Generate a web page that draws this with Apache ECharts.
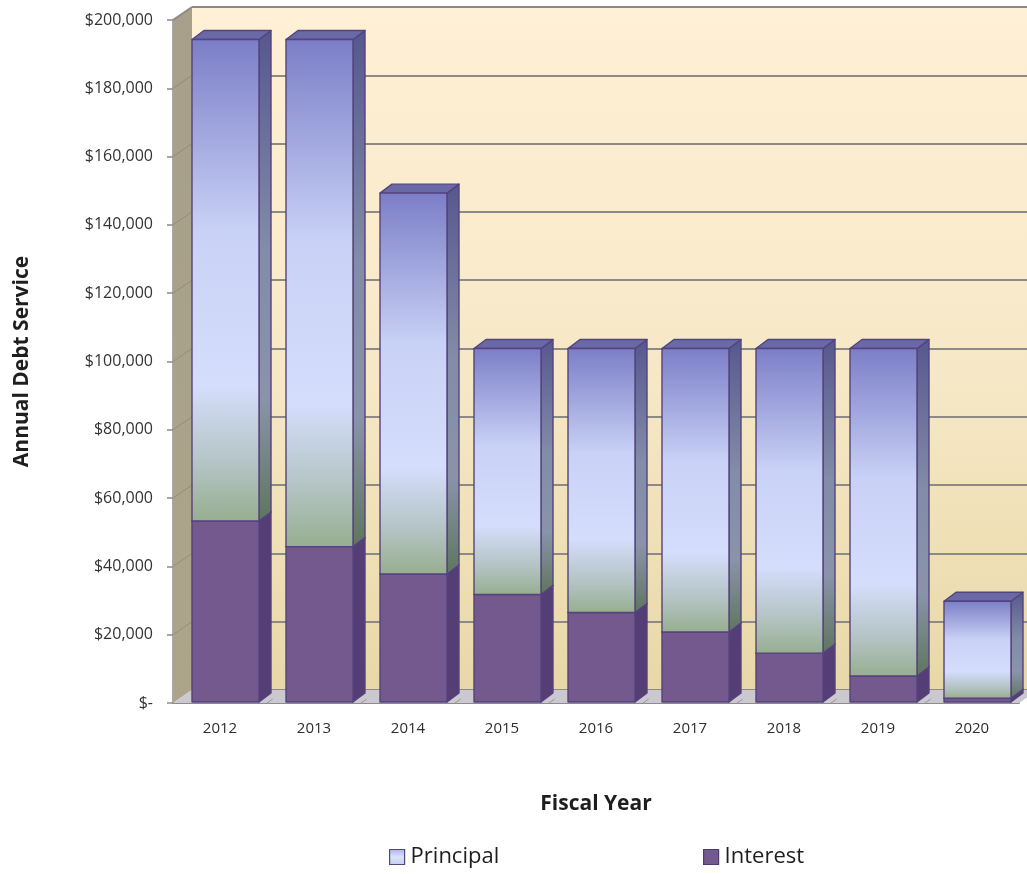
<!DOCTYPE html>
<html>
<head>
<meta charset="utf-8">
<script src="https://cdn.jsdelivr.net/npm/echarts@6/dist/echarts.min.js"></script>
<style>
  html, body { margin: 0; padding: 0; background: #ffffff; }
  #chart { width: 1027px; height: 874px; }
</style>
</head>
<body>
<div id="chart"></div>
<script>
// Fiscal years and annual debt service split into interest and principal
const years = ['2012', '2013', '2014', '2015', '2016', '2017', '2018', '2019', '2020'];
const interest = [53000, 45500, 37500, 31500, 26200, 20500, 14300, 7600, 1100];
const principal = [141000, 148500, 111500, 72000, 77300, 83000, 89200, 95900, 28400];
const yTicks = [0, 20000, 40000, 60000, 80000, 100000, 120000, 140000, 160000, 180000, 200000];

const Y_MAX = yTicks[yTicks.length - 1];
const Y_STEP = yTicks[1] - yTicks[0];

// 3D look: offset of the back wall and of a column's back face (px)
const WALL_DX = 19, WALL_DY = -13;
const BAR_DX = 12, BAR_DY = -9;
// column front face relative to band centre, as fractions of the band
const FACE_L = -28 / 94, FACE_R = 39 / 94;

const FONT = '"Open Sans", "DejaVu Sans", sans-serif';
const grad = (stops) => new echarts.graphic.LinearGradient(0, 0, 0, 1,
  stops.map(([o, c]) => ({ offset: o, color: c })));

// stacked ranges for each series
const interestData = years.map((y, i) => [i, 0, interest[i]]);
const principalData = years.map((y, i) => [i, interest[i], interest[i] + principal[i]]);

const STYLE = {
  Principal: {
    front: () => grad([[0, '#7b7ec7'], [0.4, '#c9d2f6'], [0.72, '#d4ddfb'], [0.88, '#b4c4c4'], [1, '#97ae8f']]),
    side: () => grad([[0, '#56578e'], [0.45, '#838ca8'], [0.75, '#8a93aa'], [1, '#5f755e']]),
    top: '#6a69a8'
  },
  Interest: {
    front: () => '#74598f',
    side: () => '#553e75',
    top: '#5e4882'
  }
};
const EDGE = '#54437d';

function renderColumn(params, api) {
  const idx = api.value(0);
  const band = api.size([1, 0])[0];
  const lo = api.coord([idx, api.value(1)]);
  const hi = api.coord([idx, api.value(2)]);
  const xl = lo[0] + band * FACE_L;
  const xr = lo[0] + band * FACE_R;
  const yb = lo[1] - 1;
  const yt = hi[1] - 1;
  const st = STYLE[params.seriesName];
  const line = { stroke: EDGE, lineWidth: 1.4, lineJoin: 'round' };
  return {
    type: 'group',
    children: [
      { type: 'polygon', shape: { points: [[xr, yb], [xr + BAR_DX, yb + BAR_DY], [xr + BAR_DX, yt + BAR_DY], [xr, yt]] },
        style: Object.assign({ fill: st.side() }, line) },
      { type: 'polygon', shape: { points: [[xl, yt], [xl + BAR_DX, yt + BAR_DY], [xr + BAR_DX, yt + BAR_DY], [xr, yt]] },
        style: Object.assign({ fill: st.top }, line) },
      { type: 'rect', shape: { x: xl, y: yt, width: xr - xl, height: yb - yt },
        style: Object.assign({ fill: st.front() }, line) }
    ]
  };
}

// side wall, floor and the side-wall grid lines
function renderFrame(params, api) {
  const band = api.size([1, 0])[0];
  const x0 = api.coord([0, 0])[0] - band / 2;
  const x1 = api.coord([years.length - 1, 0])[0] + band / 2;
  const y0 = api.coord([0, 0])[1];
  const yTop = api.coord([0, Y_MAX])[1];
  const children = [
    { type: 'polygon', shape: { points: [[x0, y0], [x0, yTop], [x0 + WALL_DX, yTop + WALL_DY], [x0 + WALL_DX, y0 + WALL_DY]] },
      style: { fill: grad([[0, '#a79f8a'], [1, '#aca58a']]) } },
    { type: 'polygon', shape: { points: [[x0, y0], [x1, y0], [x1 + WALL_DX, y0 + WALL_DY], [x0 + WALL_DX, y0 + WALL_DY]] },
      style: { fill: '#cbc8d0' } }
  ];
  yTicks.forEach((v) => {
    if (v === 0) return;
    const y = api.coord([0, v])[1];
    children.push({ type: 'line', shape: { x1: x0, y1: y, x2: x0 + WALL_DX, y2: y + WALL_DY },
      style: { stroke: v === Y_MAX ? '#8d8985' : 'rgba(130,124,108,0.55)', lineWidth: v === Y_MAX ? 2 : 1 } });
  });
  for (let i = 1; i < years.length; i++) {
    const x = x0 + band * i;
    children.push({ type: 'line', shape: { x1: x, y1: y0, x2: x + WALL_DX * 0.3, y2: y0 + WALL_DY * 0.3 },
      style: { stroke: '#9a97a0', lineWidth: 1 } });
  }
  return { type: 'group', children };
}

const chart = echarts.init(document.getElementById('chart'), null, { renderer: 'canvas' });

chart.setOption({
  backgroundColor: '#ffffff',
  animation: false,
  grid: [
    { left: 173, right: 8, top: 20, bottom: 171 },
    { left: 173 + WALL_DX, right: 0, top: 20 + WALL_DY, bottom: 171 - WALL_DY,
      show: true, borderWidth: 0,
      backgroundColor: grad([[0, '#fff0d6'], [0.55, '#f6e8c6'], [1, '#e8d8a8']]) }
  ],
  xAxis: [
    {
      type: 'category', gridIndex: 0, data: years,
      axisLine: { show: true, lineStyle: { color: '#8c8c8c', width: 2 } },
      axisTick: { show: false },
      axisLabel: { color: '#2e2e2e', fontSize: 15, fontFamily: FONT, margin: 18 },
      name: 'Fiscal Year', nameLocation: 'middle', nameGap: 91,
      nameTextStyle: { color: '#1e1e1e', fontSize: 21, fontWeight: 'bold', fontFamily: FONT }
    },
    { type: 'value', gridIndex: 1, show: false, min: 0, max: 1 }
  ],
  yAxis: [
    {
      type: 'value', gridIndex: 0, min: 0, max: Y_MAX, interval: Y_STEP,
      axisLine: { show: true, lineStyle: { color: '#8c8c8c', width: 1.5 } },
      axisTick: { show: true, inside: false, length: 6, lineStyle: { color: '#8c8c8c', width: 1.5 } },
      splitLine: { show: false },
      axisLabel: {
        color: '#333333', fontSize: 16, fontFamily: FONT, margin: 20,
        formatter: (v) => v === 0 ? '$-' : '$' + v.toLocaleString('en-US')
      },
      name: 'Annual Debt Service', nameLocation: 'middle', nameGap: 140, nameRotate: 90,
      nameTextStyle: { color: '#1e1e1e', fontSize: 21, fontWeight: 'bold', fontFamily: FONT }
    },
    {
      type: 'value', gridIndex: 1, min: 0, max: Y_MAX, interval: Y_STEP,
      axisLine: { show: false }, axisTick: { show: false }, axisLabel: { show: false },
      splitLine: { show: true, lineStyle: { color: '#8d8985', width: 2 } }
    }
  ],
  legend: [
    {
      data: [{ name: 'Principal', itemStyle: { color: grad([[0, '#aab2ea'], [0.5, '#dbe2fc'], [1, '#c4cdf0']]), borderColor: '#4e4a7e', borderWidth: 1.2 } }],
      left: 389, top: 846, padding: 0, icon: 'rect', itemWidth: 15, itemHeight: 15, itemGap: 0,
      textStyle: { color: '#1e1e1e', fontSize: 22, fontFamily: FONT, padding: [0, 0, 0, 1] },
      selectedMode: false
    },
    {
      data: [{ name: 'Interest', itemStyle: { color: '#74598f', borderColor: '#4e3a6e', borderWidth: 1.2 } }],
      left: 703, top: 846, padding: 0, icon: 'rect', itemWidth: 15, itemHeight: 15, itemGap: 0,
      textStyle: { color: '#1e1e1e', fontSize: 22, fontFamily: FONT, padding: [0, 0, 0, 1] },
      selectedMode: false
    }
  ],
  series: [
    {
      name: 'frame', type: 'custom', xAxisIndex: 0, yAxisIndex: 0, silent: true, z: 1,
      renderItem: renderFrame, data: [[0, 0]], encode: { x: 0, y: 1 }
    },
    {
      name: 'Interest', type: 'custom', xAxisIndex: 0, yAxisIndex: 0, z: 5,
      itemStyle: { color: '#74598f' },
      renderItem: renderColumn, data: interestData, encode: { x: 0, y: [1, 2] }
    },
    {
      name: 'Principal', type: 'custom', xAxisIndex: 0, yAxisIndex: 0, z: 6,
      itemStyle: { color: '#c9d2f6' },
      renderItem: renderColumn, data: principalData, encode: { x: 0, y: [1, 2] }
    }
  ]
});
</script>
</body>
</html>
